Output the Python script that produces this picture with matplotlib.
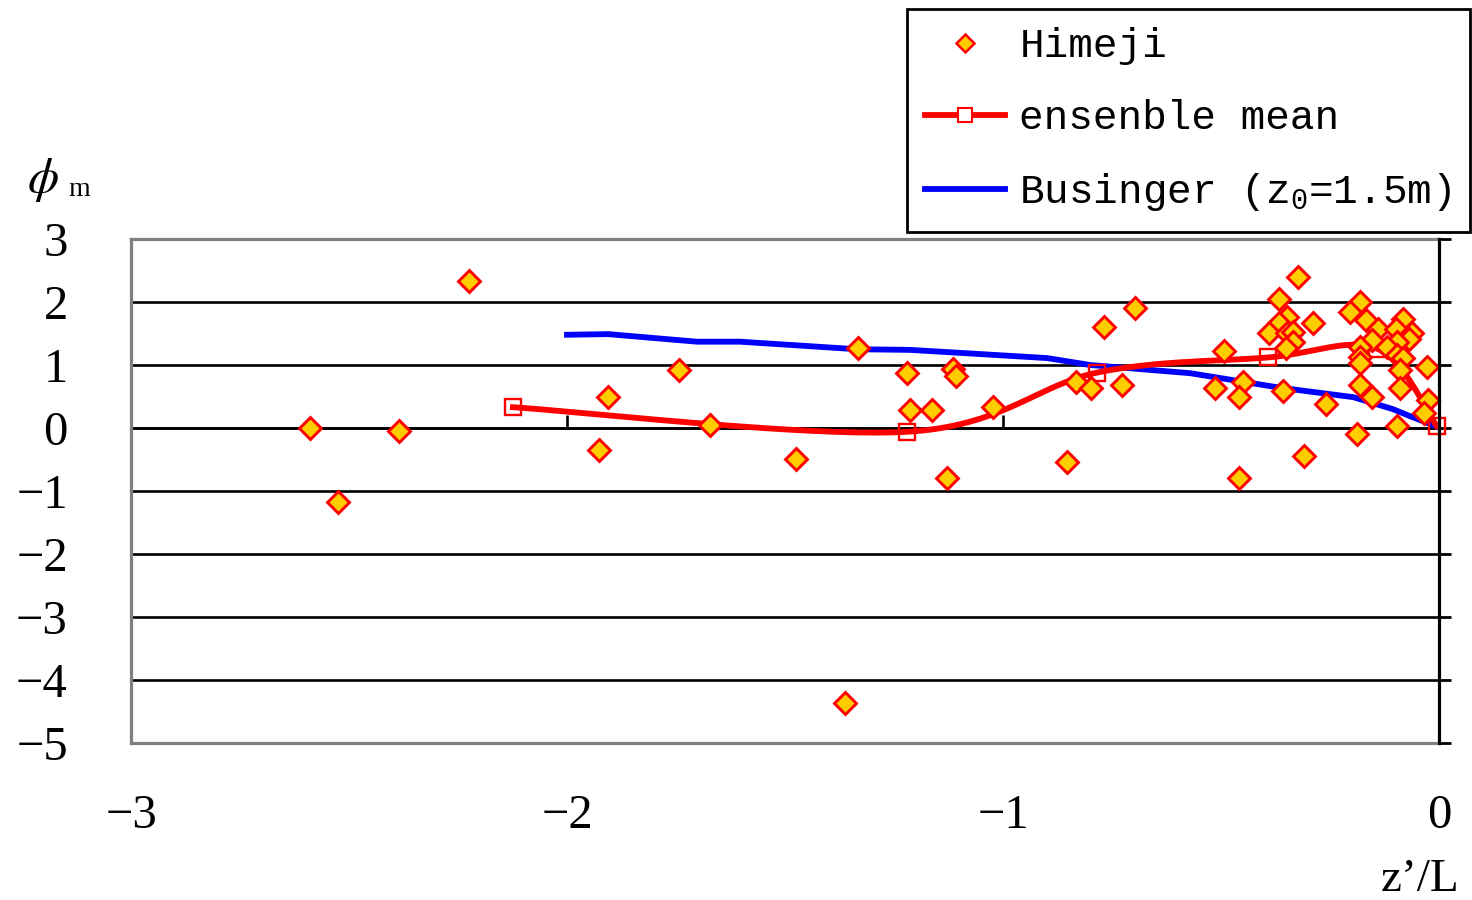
import numpy as np
import matplotlib
matplotlib.use("Agg")
import matplotlib.pyplot as plt
from matplotlib import markers

plt.rcParams['mathtext.fontset'] = 'custom'
plt.rcParams['mathtext.rm'] = 'Liberation Mono'
plt.rcParams['mathtext.it'] = 'Liberation Mono'

# Himeji observations (z'/L, phi_m)
himeji_x = [-2.589, -2.525, -2.385, -2.225, -1.927, -1.906, -1.743, -1.672,
            -1.475, -1.362, -1.333, -1.220, -1.213, -1.163, -1.128, -1.115,
            -1.108, -1.023, -0.853, -0.833, -0.798, -0.768, -0.727, -0.697,
            -0.323, -0.367, -0.349, -0.367, -0.390, -0.349, -0.335, -0.335,
            -0.351, -0.289, -0.493, -0.514, -0.450, -0.459, -0.358, -0.259,
            -0.459, -0.310, -0.181, -0.204, -0.167, -0.140, -0.154, -0.181,
            -0.181, -0.181, -0.181, -0.154, -0.188, -0.083, -0.099, -0.062,
            -0.069, -0.096, -0.119, -0.096, -0.083, -0.089, -0.028, -0.089,
            -0.025, -0.034, -0.096]
himeji_y = [0.00, -1.17, -0.05, 2.33, -0.35, 0.49, 0.92, 0.05,
            -0.49, -4.37, 1.27, 0.87, 0.29, 0.29, -0.79, 0.94,
            0.83, 0.33, -0.54, 0.73, 0.63, 1.60, 0.68, 1.90,
            2.40, 2.05, 1.76, 1.67, 1.51, 1.51, 1.52, 1.37,
            1.27, 1.67, 1.22, 0.63, 0.73, 0.49, 0.59, 0.38,
            -0.79, -0.44, 2.00, 1.84, 1.71, 1.57, 1.40, 1.28,
            1.13, 1.03, 0.68, 0.49, -0.10, 1.73, 1.57, 1.51,
            1.41, 1.37, 1.28, 1.16, 1.11, 0.92, 0.97, 0.63,
            0.44, 0.24, 0.03]

# Ensemble mean
ens_x = [-2.124, -1.220, -0.784, -0.392, -0.142, -0.005]
ens_y = [0.33, -0.06, 0.88, 1.12, 1.26, 0.03]

# Businger profile (z0 = 1.5 m)
bus_x = [-2.0, -1.906, -1.702, -1.603, -1.335, -1.213, -0.899, -0.800,
         -0.571, -0.365, -0.197, -0.106, -0.060, 0.0]
bus_y = [1.48, 1.49, 1.37, 1.37, 1.25, 1.24, 1.11, 1.00,
         0.87, 0.64, 0.49, 0.30, 0.17, 0.01]

x_ticks = [-3, -2, -1, 0]
y_ticks = [3, 2, 1, 0, -1, -2, -3, -4, -5]


def smooth_curve(xs, ys, n=40):
    """Bezier smoothing through the points (Catmull-Rom style control points)."""
    P = np.column_stack([xs, ys]).astype(float)
    ext = np.vstack([P[0], P, P[-1]])
    t = np.linspace(0, 1, n)[:, None]
    parts = []
    for i in range(len(P) - 1):
        p0, p1, p2, p3 = ext[i], ext[i + 1], ext[i + 2], ext[i + 3]
        c1 = p1 + (p2 - p0) / 6.0
        c2 = p2 - (p3 - p1) / 6.0
        seg = ((1 - t) ** 3) * p1 + 3 * ((1 - t) ** 2) * t * c1 \
            + 3 * (1 - t) * t ** 2 * c2 + t ** 3 * p2
        parts.append(seg if i == 0 else seg[1:])
    return np.vstack(parts)


serif = ['Liberation Serif', 'DejaVu Serif']
mono = ['Liberation Mono', 'DejaVu Sans Mono']

fig = plt.figure(figsize=(14.72, 9.0), dpi=100)
ax = fig.add_axes([131 / 1472, 1 - 743 / 900, (1439 - 131) / 1472, (743 - 239) / 900])

ax.set_xlim(-3, 0)
ax.set_ylim(-5, 3)

# grid and zero axis
ax.set_axisbelow(True)
ax.yaxis.grid(True, color='black', lw=1.9)
ax.axhline(0, color='black', lw=1.9, zorder=1)
ax.plot(x_ticks[:-1], [0] * (len(x_ticks) - 1), ls='none',
        marker=markers.TICKUP, ms=9.5, mew=1.9, color='black', zorder=1)

# series
ax.plot(bus_x, bus_y, color='#0000FF', lw=4.2, zorder=3)
curve = smooth_curve(ens_x, ens_y)
ax.plot(curve[:, 0], curve[:, 1], color='#FF0000', lw=4.2, zorder=4)
ax.plot(ens_x, ens_y, ls='none', marker='s', ms=11.5, mfc='none',
        mec='#FF0000', mew=1.7, zorder=4, clip_on=False)
ax.plot(himeji_x, himeji_y, ls='none', marker='D', ms=10.8, mfc='#FFCC00',
        mec='#FF0000', mew=2.1, zorder=5, clip_on=False)

# spines
for side in ['left', 'top', 'bottom']:
    ax.spines[side].set_color('#808080')
    ax.spines[side].set_linewidth(2.3)
ax.spines['right'].set_color('black')
ax.spines['right'].set_linewidth(2.3)
ax.spines['right'].set_zorder(6)

ax.set_xticks(x_ticks)
ax.set_yticks(y_ticks)
ax.set_xticklabels(['\u22123', '\u22122', '\u22121', '0'])
ax.set_yticklabels([('\u2212' + str(-v)) if v < 0 else str(v) for v in y_ticks])
ax.tick_params(axis='x', bottom=False, top=False, labelbottom=True, pad=33)
ax.tick_params(axis='y', left=False, right=True, labelleft=True, labelright=False,
               direction='out', length=8.5, width=2.0, color='black', pad=37)
for lab in ax.get_xticklabels() + ax.get_yticklabels():
    lab.set_fontfamily(serif)
    lab.set_fontsize(35)

# axis titles
fig.text(27 / 1472, 1 - 180 / 900, r'$\phi$', fontsize=36, va='center', ha='left',
         math_fontfamily='stix')
fig.text(68 / 1472, 1 - 190 / 900, 'm', fontsize=20, va='center', ha='left',
         family=serif)
fig.text(1460 / 1472, 1 - 891 / 900, 'z\u2019/L', fontsize=34, va='baseline',
         ha='right', family=serif)

# legend
h_himeji = plt.Line2D([], [], ls='none', marker='D', ms=9.5, mfc='#FFCC00',
                      mec='#FF0000', mew=1.8)
h_ens = plt.Line2D([], [], color='#FF0000', lw=4.2, marker='s', ms=10,
                   mfc='white', mec='#FF0000', mew=1.5)
h_bus = plt.Line2D([], [], color='#0000FF', lw=4.2)
leg = fig.legend([h_himeji, h_ens, h_bus],
                 ['Himeji', 'ensenble mean', r'Businger (z$_0$=1.5m)'],
                 loc='upper right', bbox_to_anchor=(1470 / 1472, 1 - 9 / 900),
                 frameon=True, fancybox=False, edgecolor='black', framealpha=1.0,
                 prop={'family': mono, 'size': 29.5}, handlelength=1.95,
                 handletextpad=0.35, labelspacing=0.83, borderpad=0.45,
                 borderaxespad=0.0)
leg.get_frame().set_linewidth(2.0)

fig.savefig('out.png', dpi=100, facecolor='white')
